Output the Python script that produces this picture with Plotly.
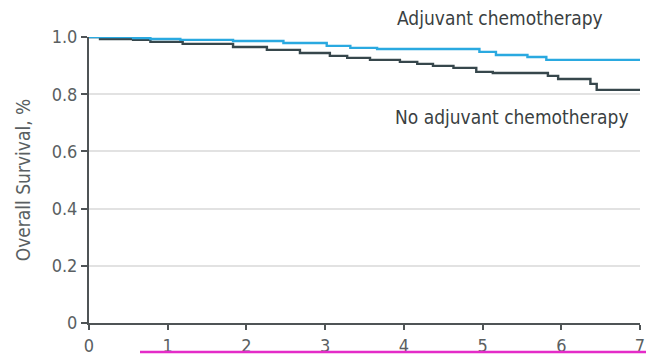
import plotly.graph_objects as go

# Kaplan-Meier step data (years, survival proportion)
adj_years = [0.0, 0.56, 0.78, 1.16, 1.83, 2.47, 3.02, 3.32, 3.66, 4.96, 5.17, 5.57, 5.81, 7.0]
adj_surv = [1.0, 0.996, 0.993, 0.990, 0.986, 0.979, 0.969, 0.962, 0.958, 0.948, 0.937, 0.930, 0.920, 0.920]

noadj_years = [0.0, 0.14, 0.56, 0.78, 1.19, 1.83, 2.26, 2.68, 3.06, 3.28, 3.57, 3.95, 4.17, 4.37,
               4.63, 4.92, 5.13, 5.83, 5.96, 6.37, 6.45, 7.0]
noadj_surv = [1.0, 0.993, 0.990, 0.983, 0.976, 0.965, 0.955, 0.944, 0.934, 0.927, 0.920, 0.913,
              0.906, 0.899, 0.892, 0.878, 0.874, 0.864, 0.853, 0.836, 0.815, 0.815]

x_ticks = [0, 1, 2, 3, 4, 5, 6, 7]
y_ticks = [0, 0.2, 0.4, 0.6, 0.8, 1.0]
y_tick_text = ["0", "0.2", "0.4", "0.6", "0.8", "1.0"]

FONT = "DejaVu Sans Condensed, Liberation Sans Narrow, Open Sans, sans-serif"
AX = "#4f5456"
TXT = "#5a5f62"

fig = go.Figure()
fig.add_trace(go.Scatter(x=noadj_years, y=noadj_surv, mode="lines", line_shape="hv",
                         line=dict(color="#37474c", width=2.4), name="No adjuvant chemotherapy",
                         showlegend=False))
fig.add_trace(go.Scatter(x=adj_years, y=adj_surv, mode="lines", line_shape="hv",
                         line=dict(color="#2aa9e0", width=2.4), name="Adjuvant chemotherapy",
                         showlegend=False))

fig.add_annotation(x=5.22, xref="x", y=1.066, yref="paper", yanchor="middle",
                   text="Adjuvant chemotherapy", showarrow=False,
                   font=dict(family=FONT, size=19, color="#3a3f42"))
fig.add_annotation(x=5.37, xref="x", y=0.72, yref="paper", yanchor="middle",
                   text="No adjuvant chemotherapy", showarrow=False,
                   font=dict(family=FONT, size=19, color="#3a3f42"))

# decorative underline at the bottom edge
fig.add_shape(type="line", xref="paper", yref="paper", x0=(140 - 89) / 551, x1=(646 - 89) / 551,
              y0=-(352 - 323) / 286, y1=-(352 - 323) / 286,
              line=dict(color="#e42bc8", width=2.5))

fig.update_layout(
    width=646, height=356,
    margin=dict(l=89, r=6, t=37, b=33, autoexpand=False),
    paper_bgcolor="white", plot_bgcolor="white",
    font=dict(family=FONT, color=AX, size=18),
    xaxis=dict(range=[0, 7], tickvals=x_ticks, showgrid=False, zeroline=False, automargin=False,
               showline=True, linecolor=AX, linewidth=2, ticks="outside", ticklen=5,
               tickwidth=1.5, tickcolor=AX, tickfont=dict(size=18, color=TXT)),
    yaxis=dict(range=[0, 1], tickvals=y_ticks, ticktext=y_tick_text, showgrid=True,
               gridcolor="#e2e2e2", gridwidth=1.5, zeroline=False, automargin=False,
               showline=True, linecolor=AX, linewidth=2, ticks="outside", ticklen=6,
               tickwidth=1.5, tickcolor=AX, tickfont=dict(size=18, color=TXT),
               title=dict(text="Overall Survival, %", font=dict(size=19, color=TXT),
                          standoff=16)),
)

fig.write_html("out.html")
